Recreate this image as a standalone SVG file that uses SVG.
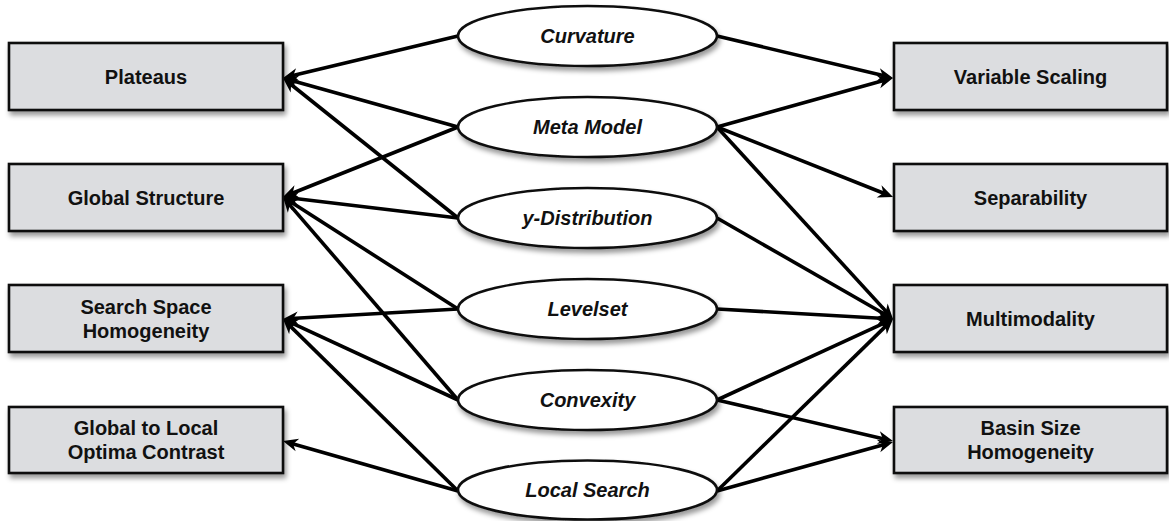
<svg xmlns="http://www.w3.org/2000/svg" width="1169" height="521" viewBox="0 0 1169 521">
<style>
.box{fill:#dcdde0;stroke:#111;stroke-width:2.6;filter:url(#sh)}
.ell{fill:#fff;stroke:#111;stroke-width:2.6;filter:url(#sh)}
.t{font-family:"Liberation Sans",Arial,Helvetica,sans-serif;font-weight:bold;font-size:20px;fill:#111;text-anchor:middle}
.ti{font-style:italic}
.c line{stroke:#000;stroke-width:3.6;marker-end:url(#ah)}
</style>
<defs>
<filter id="sh" x="-10%" y="-20%" width="125%" height="150%">
<feDropShadow dx="2" dy="4" stdDeviation="2.5" flood-color="#000" flood-opacity="0.4"/>
</filter>
<marker id="ah" markerUnits="userSpaceOnUse" viewBox="-8 -8 18 16" refX="0" refY="0" markerWidth="18" markerHeight="16" orient="auto">
<path d="M8,0 L-7,-6.5 L-2.5,0 L-7,6.5 Z" fill="#000"/>
</marker>
</defs>
<rect width="1169" height="521" fill="#fff"/>
<g id="connectors" class="c">
<line x1="458" y1="36" x2="290.8" y2="76.1"/>
<line x1="458" y1="127" x2="290.7" y2="80.2"/>
<line x1="458" y1="218" x2="289.2" y2="83.0"/>
<line x1="458" y1="127" x2="290.4" y2="194.0"/>
<line x1="458" y1="218" x2="290.9" y2="198.0"/>
<line x1="458" y1="309" x2="289.7" y2="201.3"/>
<line x1="458" y1="400" x2="288.2" y2="203.1"/>
<line x1="458" y1="309" x2="291.0" y2="318.5"/>
<line x1="458" y1="400" x2="290.3" y2="322.4"/>
<line x1="458" y1="491" x2="288.7" y2="324.6"/>
<line x1="458" y1="491" x2="290.7" y2="443.2"/>
<line x1="717" y1="36" x2="885.2" y2="76.1"/>
<line x1="717" y1="127" x2="885.3" y2="80.1"/>
<line x1="717" y1="127" x2="885.6" y2="194.0"/>
<line x1="717" y1="127" x2="887.6" y2="313.1"/>
<line x1="717" y1="218" x2="886.1" y2="315.0"/>
<line x1="717" y1="309" x2="885.0" y2="318.5"/>
<line x1="717" y1="400" x2="885.7" y2="322.3"/>
<line x1="717" y1="400" x2="885.2" y2="439.2"/>
<line x1="717" y1="491" x2="887.3" y2="324.6"/>
<line x1="717" y1="491" x2="885.3" y2="444.2"/>
</g>
<g id="plateaus"><rect class="box" x="9" y="43" width="274" height="67"/><text class="t" x="146" y="84">Plateaus</text></g>
<g id="global-structure"><rect class="box" x="9" y="164" width="274" height="67"/><text class="t" x="146" y="205">Global Structure</text></g>
<g id="search-space-homogeneity"><rect class="box" x="9" y="285" width="274" height="67"/><text class="t" x="146" y="314">Search Space</text><text class="t" x="146" y="338">Homogeneity</text></g>
<g id="global-local-contrast"><rect class="box" x="9" y="407" width="274" height="66"/><text class="t" x="146" y="435">Global to Local</text><text class="t" x="146" y="459">Optima Contrast</text></g>
<g id="variable-scaling"><rect class="box" x="894" y="43" width="273" height="67"/><text class="t" x="1030.5" y="84">Variable Scaling</text></g>
<g id="separability"><rect class="box" x="894" y="164" width="273" height="67"/><text class="t" x="1030.5" y="205">Separability</text></g>
<g id="multimodality"><rect class="box" x="894" y="285" width="273" height="67"/><text class="t" x="1030.5" y="326">Multimodality</text></g>
<g id="basin-size-homogeneity"><rect class="box" x="894" y="407" width="273" height="66"/><text class="t" x="1030.5" y="435">Basin Size</text><text class="t" x="1030.5" y="459">Homogeneity</text></g>
<g id="curvature"><ellipse class="ell" cx="587.5" cy="36" rx="129.5" ry="30"/><text class="t ti" x="587.5" y="43">Curvature</text></g>
<g id="meta-model"><ellipse class="ell" cx="587.5" cy="127" rx="129.5" ry="30"/><text class="t ti" x="587.5" y="134">Meta Model</text></g>
<g id="y-distribution"><ellipse class="ell" cx="587.5" cy="218" rx="129.5" ry="30"/><text class="t ti" x="587.5" y="225">y-Distribution</text></g>
<g id="levelset"><ellipse class="ell" cx="587.5" cy="309" rx="129.5" ry="30"/><text class="t ti" x="587.5" y="316">Levelset</text></g>
<g id="convexity"><ellipse class="ell" cx="587.5" cy="400" rx="129.5" ry="30"/><text class="t ti" x="587.5" y="407">Convexity</text></g>
<g id="local-search"><ellipse class="ell" cx="587.5" cy="490" rx="129.5" ry="29.5"/><text class="t ti" x="587.5" y="497">Local Search</text></g>
</svg>
